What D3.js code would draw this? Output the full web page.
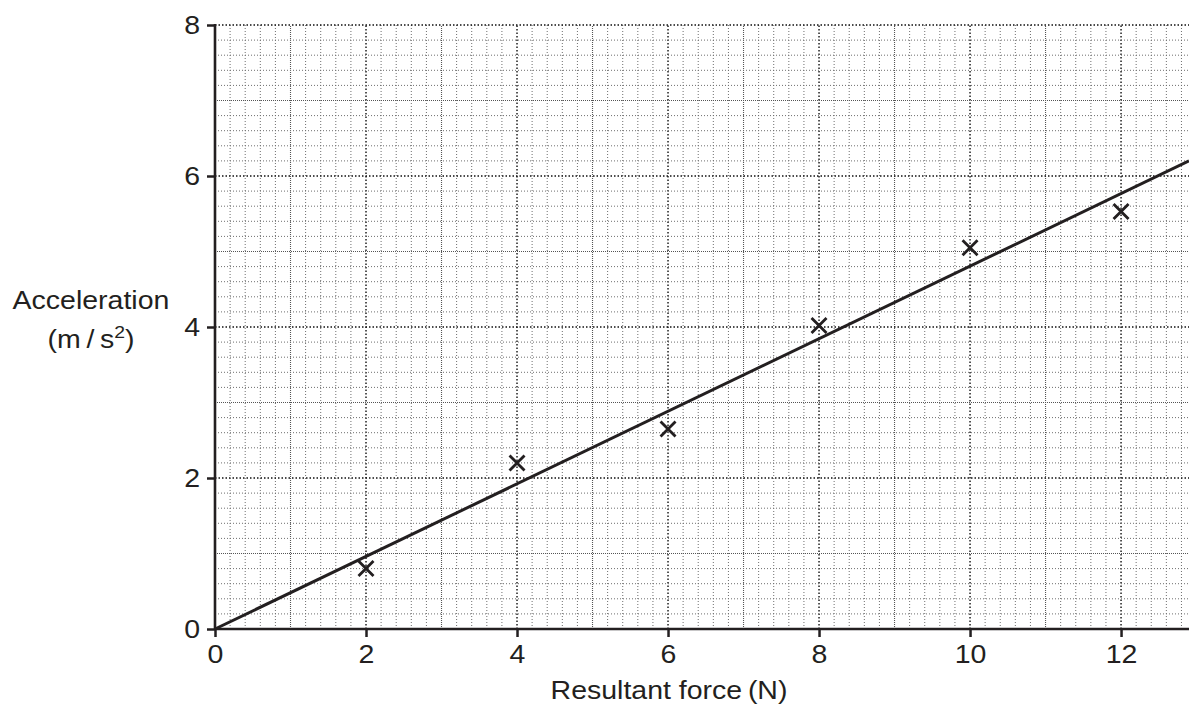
<!DOCTYPE html>
<html>
<head>
<meta charset="utf-8">
<script src="https://cdnjs.cloudflare.com/ajax/libs/d3/7.8.5/d3.min.js"></script>
<style>
body { margin: 0; background: #fff; }
text { font-family: "Liberation Sans", Arial, sans-serif; fill: #231f20; }
</style>
</head>
<body>
<div id="svg"></div>
<script>

// data
var forces = [2, 4, 6, 8, 10, 12];
var accels = [0.8, 2.2, 2.65, 4.02, 5.05, 5.53];
var fitLine = [[0, 0], [12.9, 6.2]];
var xTicks = [0, 2, 4, 6, 8, 10, 12];
var yTicks = [0, 2, 4, 6, 8];

var W = 1189, H = 713;
var mLeft = 215, mRight = 1189, mTop = 25, mBottom = 629;
var fs = "25px", stretch = "scale(1.14,1)";

var svg = d3.select("#svg").append("svg")
    .attr("width", W).attr("height", H);

var x = d3.scaleLinear().domain([0, 12.9]).range([mLeft, mRight]);
var y = d3.scaleLinear().domain([0, 8]).range([mBottom, mTop]);

// grid, every 0.2
var grid = svg.append("g");
var xs = d3.range(1, 65).map(function(i) { return i / 5; });
var ys = d3.range(1, 41).map(function(i) { return i / 5; });

function lvl(v) {
    var r = Math.round(v * 5);
    if (r % 10 == 0) return 2;
    if (r % 5 == 0) return 1;
    return 0;
}
var gStroke = ["#6e6e6e", "#555", "#111"];
var gDash = ["1,2", "1,1", "1.5,2"];
var gWidth = [1, 1.1, 1.4];

xs.forEach(function(v) {
    var l = lvl(v);
    grid.append("line")
        .attr("x1", x(v)).attr("x2", x(v))
        .attr("y1", y(0)).attr("y2", y(8))
        .attr("stroke", gStroke[l]).attr("stroke-dasharray", gDash[l])
        .attr("stroke-width", gWidth[l]);
});
ys.forEach(function(v) {
    var l = lvl(v);
    grid.append("line")
        .attr("x1", x(0)).attr("x2", mRight)
        .attr("y1", y(v)).attr("y2", y(v))
        .attr("stroke", gStroke[l]).attr("stroke-dasharray", gDash[l])
        .attr("stroke-width", gWidth[l]);
});

// axes
var xAxis = d3.axisBottom(x).tickValues(xTicks).tickSize(8).tickPadding(8);
var yAxis = d3.axisLeft(y).tickValues(yTicks).tickSize(8).tickPadding(5);

var gx = svg.append("g").attr("transform", "translate(0," + mBottom + ")").call(xAxis);
var gy = svg.append("g").attr("transform", "translate(" + mLeft + ",0)").call(yAxis);

[gx, gy].forEach(function(g) {
    g.select(".domain").remove();
    g.selectAll("line").attr("stroke", "#231f20").attr("stroke-width", 2.5);
    g.selectAll("text").style("font-size", fs).attr("fill", "#231f20")
        .style("font-family", "Liberation Sans, Arial, sans-serif")
        .attr("transform", stretch);
});

svg.append("line").attr("x1", mLeft).attr("x2", mRight)
    .attr("y1", mBottom).attr("y2", mBottom)
    .attr("stroke", "#231f20").attr("stroke-width", 2.6);
svg.append("line").attr("x1", mLeft).attr("x2", mLeft)
    .attr("y1", mTop - 1).attr("y2", mBottom + 1)
    .attr("stroke", "#231f20").attr("stroke-width", 2.6);

// best fit line
svg.append("path")
    .attr("d", d3.line().x(function(d) { return x(d[0]); }).y(function(d) { return y(d[1]); })(fitLine))
    .attr("stroke", "#231f20").attr("stroke-width", 3).attr("fill", "none");

// crosses
var s = 7.5;
svg.append("g").selectAll("path")
    .data(forces.map(function(f, i) { return [f, accels[i]]; }))
    .enter().append("path")
    .attr("d", function(d) {
        var cx = x(d[0]), cy = y(d[1]);
        return "M" + (cx - s) + "," + (cy - s) + "L" + (cx + s) + "," + (cy + s) +
               "M" + (cx - s) + "," + (cy + s) + "L" + (cx + s) + "," + (cy - s);
    })
    .attr("stroke", "#231f20").attr("stroke-width", 2.8).attr("fill", "none");

// axis titles
function label(px, py) {
    return svg.append("g").attr("transform", "translate(" + px + "," + py + ") " + stretch)
        .append("text").attr("text-anchor", "middle").style("font-size", fs);
}
label(91, 309).text("Acceleration");
var t2 = label(91, 348);
t2.append("tspan").text("(m\u2009/\u2009s");
t2.append("tspan").attr("dy", -10).style("font-size", "17px").text("2");
t2.append("tspan").attr("dy", 10).text(")");

label(669, 699).text("Resultant force\u2009(N)");

</script>
</body>
</html>
